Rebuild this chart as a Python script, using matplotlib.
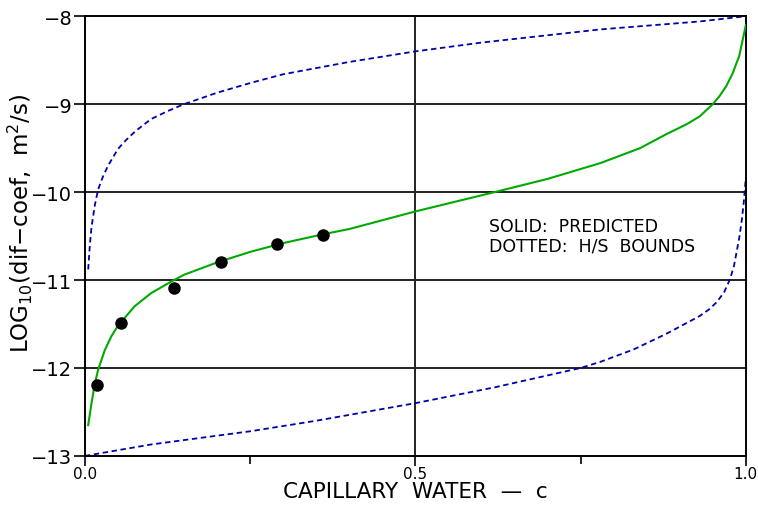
import numpy as np
import matplotlib
matplotlib.use("Agg")
import matplotlib.pyplot as plt
from matplotlib.ticker import MultipleLocator

# predicted curve (solid green)
pred_c = [0.005, 0.01, 0.015, 0.02, 0.03, 0.04, 0.05, 0.075, 0.1, 0.13, 0.15, 0.2, 0.25,
          0.3, 0.36, 0.4, 0.5, 0.62, 0.7, 0.78, 0.84, 0.88, 0.91, 0.93, 0.95, 0.96,
          0.97, 0.98, 0.99, 1.0]
pred_d = [-12.65, -12.4, -12.18, -12.02, -11.8, -11.64, -11.52, -11.3, -11.15, -11.02,
          -10.94, -10.8, -10.68, -10.58, -10.48, -10.42, -10.22, -10.0, -9.85, -9.67,
          -9.5, -9.34, -9.23, -9.14, -9.0, -8.91, -8.8, -8.65, -8.45, -8.1]

# H/S upper bound (dotted blue)
up_c = [0.005, 0.0075, 0.01, 0.015, 0.02, 0.027, 0.035, 0.05, 0.062, 0.076, 0.1, 0.125,
        0.15, 0.2, 0.25, 0.3, 0.4, 0.5, 0.6, 0.78, 0.93, 1.0]
up_d = [-10.88, -10.6, -10.4, -10.15, -9.97, -9.83, -9.7, -9.51, -9.41, -9.31, -9.17,
        -9.08, -9.0, -8.87, -8.76, -8.66, -8.52, -8.4, -8.3, -8.15, -8.06, -8.0]

# H/S lower bound (dotted blue)
lo_c = [0.0, 0.1, 0.17, 0.25, 0.35, 0.5, 0.62, 0.75, 0.78, 0.83, 0.88, 0.91, 0.93,
        0.945, 0.956, 0.967, 0.976, 0.982, 0.986, 0.99, 0.994, 0.997, 1.0]
lo_d = [-13.0, -12.87, -12.8, -12.72, -12.6, -12.4, -12.22, -12.0, -11.93, -11.79,
        -11.61, -11.49, -11.41, -11.33, -11.25, -11.14, -10.99, -10.84, -10.68, -10.52,
        -10.31, -10.1, -9.83]

# measured points
meas_c = [0.018, 0.054, 0.135, 0.206, 0.29, 0.36]
meas_d = [-12.19, -11.49, -11.09, -10.8, -10.59, -10.49]

fig = plt.figure(figsize=(7.58, 5.06), dpi=100)
ax = fig.add_axes([0.112, 0.097, 0.872, 0.869])

for y in [-9, -10, -11, -12]:
    ax.axhline(y, color="#222222", lw=1.4, zorder=1)
ax.axvline(0.5, color="#222222", lw=1.4, zorder=1)

ax.plot(up_c, up_d, color="#0000aa", lw=1.3, ls=(0, (3, 2)), zorder=2)
ax.plot(lo_c, lo_d, color="#0000aa", lw=1.3, ls=(0, (3, 2)), zorder=2)
ax.plot(pred_c, pred_d, color="#00aa00", lw=1.5, zorder=3)
ax.plot(meas_c, meas_d, "o", color="black", ms=8, zorder=4)

ax.set_xlim(0, 1)
ax.set_ylim(-13, -8)
ax.set_xticks([0, 0.5, 1.0])
ax.set_xticklabels(["0.0", "0.5", "1.0"])
ax.xaxis.set_minor_locator(MultipleLocator(0.25))
ax.set_yticks([-13, -12, -11, -10, -9, -8])
ax.set_yticklabels(["\u221213", "\u221212", "\u221211", "\u221210", "\u22129", "\u22128"])
ax.tick_params(axis="both", which="both", direction="out", width=1.2, color="black")
ax.tick_params(axis="x", which="major", length=7, labelsize=11, pad=0)
ax.tick_params(axis="x", which="minor", length=6)
ax.tick_params(axis="y", which="major", length=8, labelsize=14, pad=1)
for s in ax.spines.values():
    s.set_linewidth(1.4)

ax.set_xlabel("CAPILLARY  WATER  \u2014  c", fontsize=15.5)
ax.xaxis.set_label_coords(0.5, -0.058)
ax.set_ylabel("LOG$_{10}$(dif\u2212coef,  m$^2$/s)", fontsize=16.5)
ax.yaxis.set_label_coords(-0.076, 0.53)

ax.text(0.612, -10.5, "SOLID:  PREDICTED\nDOTTED:  H/S  BOUNDS", fontsize=12.5,
        linespacing=1.1, va="center", ha="left")

fig.savefig("out.png", dpi=100)
